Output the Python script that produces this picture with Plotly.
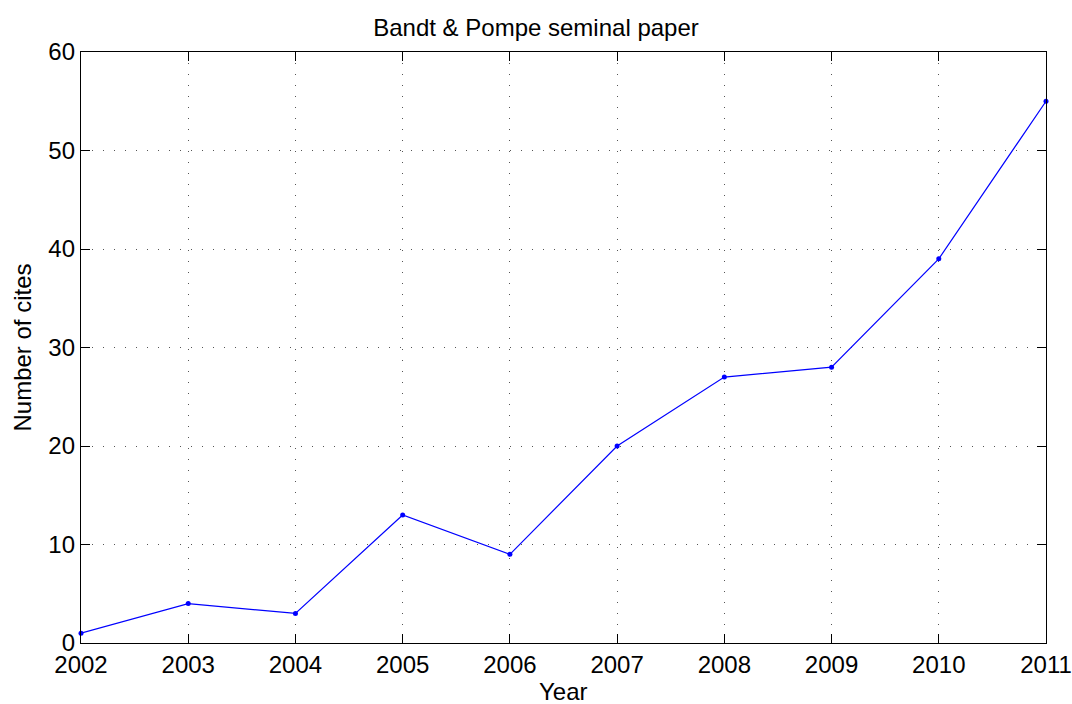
import plotly.graph_objects as go

years = [2002, 2003, 2004, 2005, 2006, 2007, 2008, 2009, 2010, 2011]
cites = [1, 4, 3, 13, 9, 20, 27, 28, 39, 55]
x_ticks = years
y_ticks = [0, 10, 20, 30, 40, 50, 60]

FONT = "Liberation Sans, Arial, sans-serif"
FS = 24

W, H = 1072, 704

fig = go.Figure()
fig.add_trace(go.Scatter(
    x=years, y=cites, mode="lines+markers",
    line=dict(color="#0000ff", width=1.2),
    marker=dict(color="#0000ff", size=5),
    showlegend=False, cliponaxis=False,
))

axis_common = dict(
    showline=True, linecolor="black", linewidth=1.3, mirror="ticks",
    ticks="inside", ticklen=9, tickwidth=1.2, tickcolor="black",
    showgrid=True, gridcolor="#555555", griddash="1px,10px", gridwidth=1,
    zeroline=False, automargin=False,
    tickfont=dict(family=FONT, size=FS, color="black"),
)

fig.update_layout(
    width=W, height=H,
    paper_bgcolor="white", plot_bgcolor="white",
    margin=dict(l=81, r=26, t=52, b=61, autoexpand=False),
    title=dict(text="Bandt & Pompe seminal paper", x=0.5, xanchor="center",
               y=1 - 28/H, yanchor="middle",
               font=dict(family=FONT, size=FS, color="black")),
    xaxis=dict(range=[2002, 2011], tickvals=x_ticks, ticktext=[str(v) for v in x_ticks],
               **axis_common),
    yaxis=dict(range=[0, 60], tickvals=y_ticks, **axis_common),
    annotations=[
        dict(text="Year", xref="paper", yref="paper", x=0.5, y=0,
             xanchor="center", yanchor="middle", yshift=-48, showarrow=False,
             font=dict(family=FONT, size=FS, color="black")),
        dict(text="Number of cites", xref="paper", yref="paper", x=0, y=0.5,
             xanchor="center", yanchor="middle", xshift=-59, textangle=-90,
             showarrow=False, font=dict(family=FONT, size=FS, color="black")),
    ],
)

fig.write_html("out.html",
               config={"displayModeBar": False},
               post_script="document.body.style.margin='0';document.body.style.overflow='hidden';")
